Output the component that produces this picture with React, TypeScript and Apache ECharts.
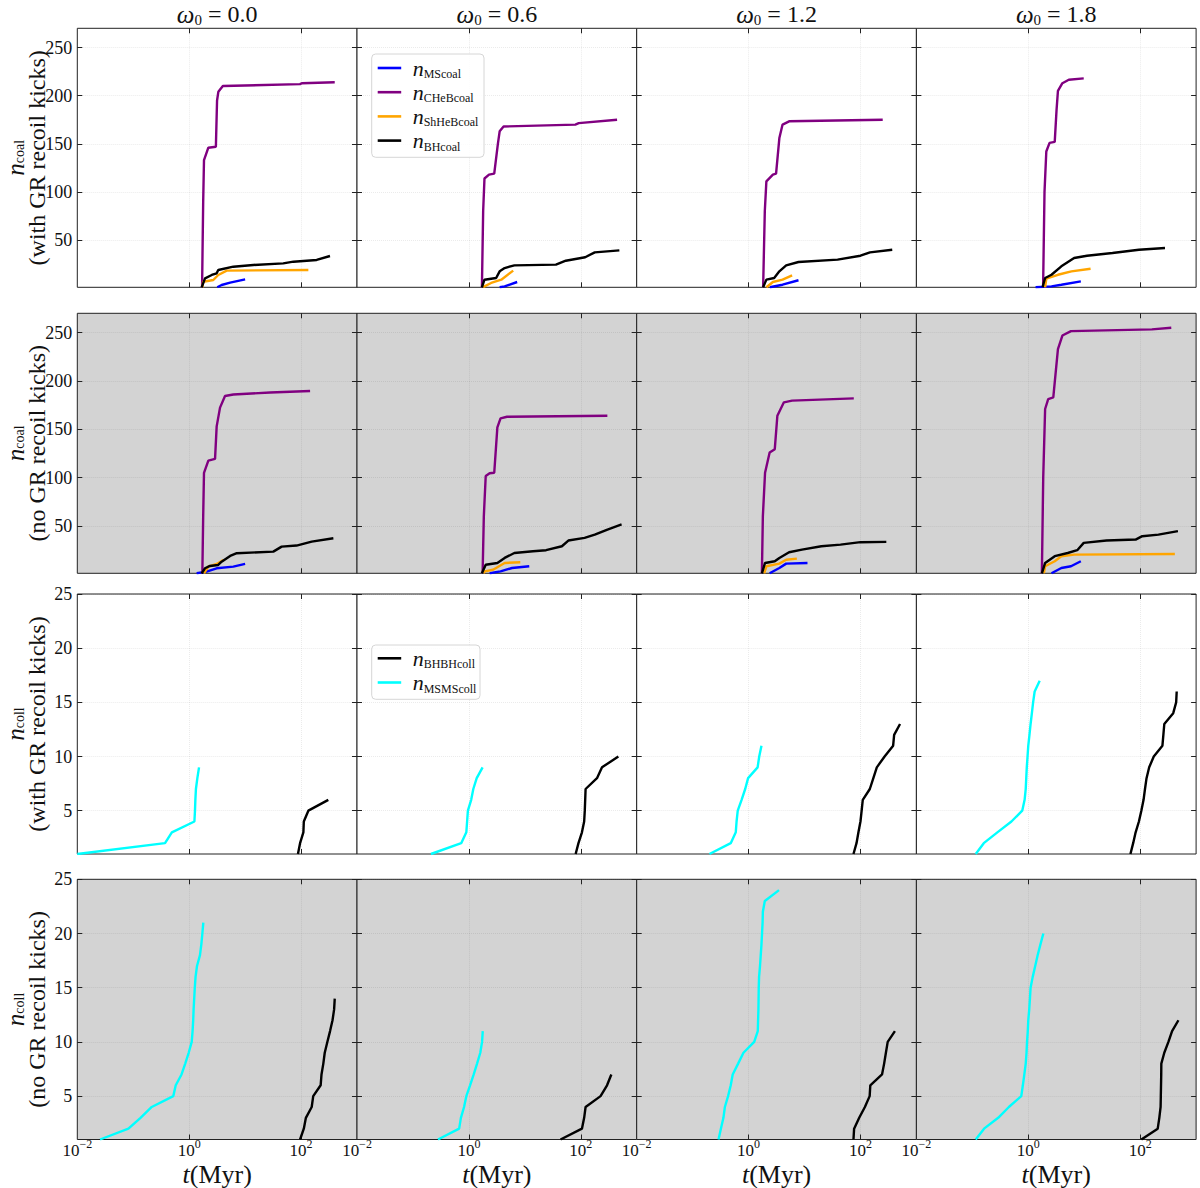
import { useEffect, useRef } from 'react';
import * as echarts from 'echarts';

type Pt = [number, number];

// ---- axes ----
const OMEGA = ['0.0', '0.6', '1.2', '1.8'];
const T_MIN = 0.01;
const T_MAX = 1000;
const T_TICKS = [1, 100];
const T_TICK_LABELS = [0.01, 1, 100];
const COAL_TICKS = [50, 100, 150, 200, 250];
const COLL_TICKS = [5, 10, 15, 20, 25];
const COAL_RANGE: [number, number] = [1, 270];
const COLL_RANGE: [number, number] = [1, 25];

// ---- coalescences, with GR recoil kicks: [t (Myr), n], one list per omega0 column ----
const MS_COAL_GR: Pt[][] = [
  [[3.18, 1], [3.8, 3.4], [5.4, 5.8], [10, 9.3]],
  [[3.55, 1], [4.36, 2], [7.3, 6.5]],
  [[2.4, 1], [4.05, 3.7], [7.8, 8.3]],
  [[1.35, 1], [2.6, 2], [3.9, 3.7], [8.7, 7.2]],
];
const CHEB_COAL_GR: Pt[][] = [
  [[1.7, 1], [1.78, 90], [1.84, 133], [2.2, 146], [3.0, 147], [3.15, 195], [3.32, 204], [4.0, 210], [96, 212], [103, 213], [400, 214]],
  [[1.71, 1], [1.8, 80], [1.9, 114], [2.29, 118], [2.84, 119], [3.3, 150], [3.55, 163], [4.17, 168], [80, 170], [92, 171.5], [446, 175]],
  [[1.82, 1], [1.95, 80], [2.08, 111], [2.72, 118], [3.1, 119], [3.55, 156], [4.05, 170], [5.3, 173.4], [250, 175]],
  [[1.84, 1], [1.95, 100], [2.1, 142], [2.4, 151], [2.97, 152], [3.2, 185], [3.39, 205], [4.07, 213], [5.3, 216.6], [9.8, 218]],
];
const SHHEB_COAL_GR: Pt[][] = [
  [[1.72, 1], [1.78, 6.8], [2.7, 8.6], [3.31, 13.8], [4.69, 18.3], [135, 19]],
  [[1.8, 1], [1.9, 2], [2.5, 5.5], [3.8, 8.9], [6.2, 18.3]],
  [[2.08, 1], [2.72, 6.5], [4.05, 8.9], [6.0, 13.4]],
  [[2.0, 1], [2.1, 10], [2.3, 10.7], [3.39, 14], [5.9, 17.6], [13, 20.3]],
];
const BH_COAL_GR: Pt[][] = [
  [[1.67, 1], [1.92, 10.3], [2.53, 13.8], [3.1, 15.5], [3.31, 19], [6.15, 22.4], [14, 24.2], [48, 25.9], [73, 27.6], [190, 29.4], [329, 33.5]],
  [[1.71, 1], [1.9, 8.9], [3.07, 10.7], [3.55, 17.6], [4.36, 21], [6.5, 23.8], [36, 24.5], [54, 28.6], [120, 32.2], [178, 37.3], [490, 39.4]],
  [[1.82, 1], [2.08, 9], [2.87, 10.7], [3.55, 17.6], [4.7, 23.8], [7.8, 27.3], [39, 29.7], [100, 33.8], [148, 37.3], [370, 40]],
  [[1.8, 1], [2.0, 10.7], [2.6, 14], [3.9, 22.8], [6.6, 31.4], [11.2, 33.8], [32, 36.6], [95, 40], [278, 41.8]],
];

// ---- coalescences, no GR recoil kicks ----
const MS_COAL_NOGR: Pt[][] = [
  [[1.36, 1], [2.04, 2.7], [3.1, 6.2], [6.15, 7.9], [10, 10.7]],
  [[2.35, 1], [3.68, 3], [5.9, 6.5], [12, 8.3]],
  [[2.38, 1], [3.55, 6.5], [4.7, 11], [11.3, 11.7]],
  [[2.6, 1], [3.9, 6.5], [5.8, 8.3], [8.7, 13.5]],
];
const CHEB_COAL_NOGR: Pt[][] = [
  [[1.72, 1], [1.78, 60], [1.84, 105], [2.2, 117.6], [2.9, 119.4], [3.1, 153], [3.56, 172.4], [4.37, 184.4], [6.15, 186], [28, 188], [145, 189.6]],
  [[1.76, 1], [1.85, 60], [2.0, 101.7], [2.35, 104.5], [2.84, 105], [3.23, 151.9], [3.68, 161.3], [4.8, 163], [299, 164]],
  [[1.73, 1], [1.8, 60], [1.97, 105], [2.38, 125.9], [2.94, 129.4], [3.27, 164], [4.28, 177.9], [6.0, 179.6], [76, 182]],
  [[1.75, 1], [1.85, 100], [2.0, 171], [2.27, 181.3], [2.8, 183], [3.39, 233], [4.07, 247], [5.8, 251.6], [162, 253.4], [360, 255]],
];
const SHHEB_COAL_NOGR: Pt[][] = [
  [[1.84, 1], [2.2, 7.9], [3.1, 10.7], [4.07, 14.8]],
  [[1.85, 1], [1.9, 3], [2.7, 4.7], [4.36, 11.7], [8.3, 12.4]],
  [[1.9, 1], [2.08, 8.3], [3.55, 11], [4.7, 15], [7.3, 16.2]],
  [[1.9, 1], [2.0, 8.3], [2.97, 13.5], [3.9, 18.7], [6.6, 20.3], [417, 21]],
];
const BH_COAL_NOGR: Pt[][] = [
  [[1.67, 1], [1.92, 6.2], [2.35, 8.6], [3.3, 9.6], [3.8, 13], [5.4, 19], [7.1, 21.8], [31.9, 23.4], [45, 28.6], [83, 29.7], [155, 33.8], [378, 37.3]],
  [[1.71, 1], [2.0, 9.9], [3.23, 11.7], [4.36, 16.9], [6.5, 22], [14, 23.8], [24, 24.9], [46, 29], [60, 34.9], [117, 37.7], [178, 41], [300, 46.3], [537, 51.5]],
  [[1.73, 1], [1.97, 11.7], [2.94, 13.5], [3.55, 16.9], [5.3, 22.8], [9, 25.5], [20, 29], [44, 30.7], [100, 33.2], [290, 33.5]],
  [[1.75, 1], [2.0, 11.7], [2.97, 18.7], [5.07, 22], [7.5, 24.9], [9.8, 32.5], [25, 34.9], [83, 35.9], [109, 39.4], [212, 41], [473, 44.6]],
];

// ---- collisions, with GR recoil kicks ----
const BHBH_COLL_GR: Pt[][] = [
  [[88, 1], [96, 2], [110, 3], [112, 4], [135, 5], [307, 6]],
  [[81, 1], [91, 2], [105, 3], [115, 4], [118, 5], [120, 6], [122, 7], [195, 8], [240, 9], [470, 10]],
  [[75, 1], [85, 2], [92, 3], [100, 4], [105, 5], [110, 6], [147, 7], [170, 8], [196, 9], [270, 10], [384, 11], [400, 12], [510, 13]],
  [[67, 1], [75, 2], [83, 3], [95, 4], [105, 5], [115, 6], [122, 7], [130, 8], [145, 9], [175, 10], [250, 11], [260, 12], [270, 13], [390, 14], [440, 15], [450, 16]],
];
const MSMS_COLL_GR: Pt[][] = [
  [[0.01, 1], [0.37, 2], [0.49, 3], [1.24, 4], [1.27, 5], [1.29, 6], [1.32, 7], [1.4, 8], [1.5, 9]],
  [[0.21, 1], [0.73, 2], [0.9, 3], [0.93, 4], [0.96, 5], [1.1, 6], [1.2, 7], [1.38, 8], [1.76, 9]],
  [[0.2, 1], [0.48, 2], [0.59, 3], [0.61, 4], [0.64, 5], [0.75, 6], [0.87, 7], [0.98, 8], [1.45, 9], [1.55, 10], [1.7, 11]],
  [[0.115, 1], [0.16, 2], [0.28, 3], [0.5, 4], [0.78, 5], [0.86, 6], [0.9, 7], [0.92, 8], [0.94, 9], [0.97, 10], [1.0, 11], [1.05, 12], [1.1, 13], [1.16, 14], [1.22, 15], [1.3, 16], [1.6, 17]],
];

// ---- collisions, no GR recoil kicks ----
const BHBH_COLL_NOGR: Pt[][] = [
  [[96, 1], [112, 2], [122, 3], [155, 4], [165, 5], [224, 6], [232, 7], [250, 8], [265, 9], [295, 10], [330, 11], [365, 12], [390, 13], [400, 14]],
  [[43.5, 1], [105, 2], [115, 3], [122, 4], [226, 5], [295, 6], [352, 7]],
  [[75, 1], [77, 2], [95, 3], [120, 4], [146, 5], [150, 6], [243, 7], [265, 8], [285, 9], [307, 10], [413, 11]],
  [[105, 1], [206, 2], [220, 3], [232, 4], [234, 5], [236, 6], [238, 7], [239, 8], [270, 9], [320, 10], [372, 11], [483, 12]],
];
const MSMS_COLL_NOGR: Pt[][] = [
  [[0.0255, 1], [0.082, 2], [0.135, 3], [0.214, 4], [0.52, 5], [0.575, 6], [0.73, 7], [0.85, 8], [0.98, 9], [1.11, 10], [1.15, 11], [1.18, 12], [1.2, 13], [1.23, 14], [1.26, 15], [1.3, 16], [1.38, 17], [1.56, 18], [1.65, 19], [1.72, 20], [1.79, 21]],
  [[0.28, 1], [0.67, 2], [0.72, 3], [0.82, 4], [0.9, 5], [1.05, 6], [1.22, 7], [1.4, 8], [1.6, 9], [1.72, 10], [1.77, 11]],
  [[0.29, 1], [0.32, 2], [0.355, 3], [0.377, 4], [0.43, 5], [0.48, 6], [0.52, 7], [0.65, 8], [0.81, 9], [1.26, 10], [1.46, 11], [1.48, 12], [1.5, 13], [1.51, 14], [1.52, 15], [1.54, 16], [1.6, 17], [1.65, 18], [1.7, 19], [1.74, 20], [1.78, 21], [1.8, 22], [1.95, 23], [3.5, 24]],
  [[0.115, 1], [0.162, 2], [0.29, 3], [0.45, 4], [0.75, 5], [0.8, 6], [0.85, 7], [0.9, 8], [0.93, 9], [0.95, 10], [0.98, 11], [1.0, 12], [1.04, 13], [1.07, 14], [1.1, 15], [1.2, 16], [1.33, 17], [1.47, 18], [1.65, 19], [1.86, 20]],
];

// ---- row descriptions ----
const ROW_SUBS = ['coal', 'coal', 'coll', 'coll'];
const ROW_NOTES = ['(with GR recoil kicks)', '(no GR recoil kicks)', '(with GR recoil kicks)', '(no GR recoil kicks)'];

type Kind = { sub: string; color: string; data: Pt[][] };
const ROW_KINDS: Kind[][] = [
  [
    { sub: 'MScoal', color: '#0000ff', data: MS_COAL_GR },
    { sub: 'CHeBcoal', color: '#800080', data: CHEB_COAL_GR },
    { sub: 'ShHeBcoal', color: '#ffa500', data: SHHEB_COAL_GR },
    { sub: 'BHcoal', color: '#000000', data: BH_COAL_GR },
  ],
  [
    { sub: 'MScoal', color: '#0000ff', data: MS_COAL_NOGR },
    { sub: 'CHeBcoal', color: '#800080', data: CHEB_COAL_NOGR },
    { sub: 'ShHeBcoal', color: '#ffa500', data: SHHEB_COAL_NOGR },
    { sub: 'BHcoal', color: '#000000', data: BH_COAL_NOGR },
  ],
  [
    { sub: 'BHBHcoll', color: '#000000', data: BHBH_COLL_GR },
    { sub: 'MSMScoll', color: '#00ffff', data: MSMS_COLL_GR },
  ],
  [
    { sub: 'BHBHcoll', color: '#000000', data: BHBH_COLL_NOGR },
    { sub: 'MSMScoll', color: '#00ffff', data: MSMS_COLL_NOGR },
  ],
];

// ---- layout ----
const SERIF = "'Liberation Serif', 'DejaVu Serif', serif";
const INK = '#111';
const COL_LEFT = 77.3;
const COL_W = 279.7;
const ROW_TOP = [28.3, 313.3, 594, 879.3];
const ROW_H = [259, 260, 260, 260.2];

const supLabel = (v: number) => {
  const e = Math.round(Math.log10(v));
  return `{b|10}{e|${e < 0 ? '\u2212' + -e : e}}`;
};

function buildOption() {
  const grid: any[] = [];
  const xAxis: any[] = [];
  const yAxis: any[] = [];
  const series: any[] = [];
  const graphic: any[] = [];

  for (let r = 0; r < 4; r++) {
    const coal = r < 2;
    const range = coal ? COAL_RANGE : COLL_RANGE;
    const yTicks = coal ? COAL_TICKS : COLL_TICKS;
    for (let c = 0; c < 4; c++) {
      const idx = r * 4 + c;
      grid.push({
        left: COL_LEFT + c * COL_W,
        top: ROW_TOP[r],
        width: COL_W,
        height: ROW_H[r],
        show: true,
        backgroundColor: r % 2 === 1 ? '#d3d3d3' : '#ffffff',
        borderColor: '#222',
        borderWidth: 1,
      });
      const tickStyle = { color: '#222', width: 1 };
      xAxis.push({
        type: 'log',
        logBase: 10,
        gridIndex: idx,
        min: T_MIN,
        max: T_MAX,
        position: 'bottom',
        axisLine: { show: false },
        axisTick: { show: true, inside: true, length: 5, customValues: T_TICKS, lineStyle: tickStyle },
        minorTick: { show: false },
        axisLabel: {
          show: r === 3,
          customValues: T_TICK_LABELS,
          margin: -2,
          formatter: supLabel,
          color: INK,
          fontFamily: SERIF,
          rich: {
            b: { fontSize: 17, lineHeight: 25, verticalAlign: 'middle', fontFamily: SERIF, color: INK },
            e: { fontSize: 12, lineHeight: 12, verticalAlign: 'top', fontFamily: SERIF, color: INK },
          },
        },
        splitLine: { show: true, lineStyle: { type: 'dotted', color: 'rgba(0,0,0,0.08)', width: 1 } },
      });
      xAxis.push({
        type: 'log',
        logBase: 10,
        gridIndex: idx,
        min: T_MIN,
        max: T_MAX,
        position: 'top',
        axisLine: { show: false },
        axisTick: { show: true, inside: true, length: 5, customValues: T_TICKS, lineStyle: tickStyle },
        axisLabel: { show: false },
        splitLine: { show: false },
      });
      yAxis.push({
        type: 'value',
        gridIndex: idx,
        min: range[0],
        max: range[1],
        position: 'left',
        axisLine: { show: false },
        axisTick: { show: true, inside: true, length: 5, customValues: yTicks, lineStyle: tickStyle },
        axisLabel: {
          show: c === 0,
          customValues: yTicks,
          margin: 5,
          fontSize: 18,
          fontFamily: SERIF,
          color: INK,
        },
        splitLine: { show: true, lineStyle: { type: 'dotted', color: 'rgba(0,0,0,0.08)', width: 1 } },
      });
      yAxis.push({
        type: 'value',
        gridIndex: idx,
        min: range[0],
        max: range[1],
        position: 'right',
        axisLine: { show: false },
        axisTick: { show: true, inside: true, length: 5, customValues: yTicks, lineStyle: tickStyle },
        axisLabel: { show: false },
        splitLine: { show: false },
      });

      ROW_KINDS[r].forEach((k) => {
        series.push({
          type: 'line',
          name: 'n_' + k.sub,
          xAxisIndex: idx * 2,
          yAxisIndex: idx * 2,
          data: k.data[c],
          showSymbol: false,
          symbol: 'none',
          lineStyle: { color: k.color, width: 2.4 },
          itemStyle: { color: k.color },
          clip: true,
        });
      });
    }

    // rotated row labels
    const cy = ROW_TOP[r] + ROW_H[r] / 2;
    graphic.push({
      type: 'text',
      x: 15,
      y: cy,
      rotation: Math.PI / 2,
      style: {
        text: `{n|n}{s|${ROW_SUBS[r]}}`,
        align: 'center',
        verticalAlign: 'middle',
        textAlign: 'center',
        textVerticalAlign: 'middle',
        fill: INK,
        rich: {
          n: { fontSize: 25, fontStyle: 'italic', fontFamily: SERIF, lineHeight: 22, verticalAlign: 'middle', fill: INK, color: INK },
          s: { fontSize: 14, fontFamily: SERIF, lineHeight: 12, verticalAlign: 'bottom', fill: INK, color: INK },
        },
      },
    });
    graphic.push({
      type: 'text',
      x: 37,
      y: cy,
      rotation: Math.PI / 2,
      style: {
        text: ROW_NOTES[r],
        align: 'center',
        verticalAlign: 'middle',
        textAlign: 'center',
        textVerticalAlign: 'middle',
        font: `24px ${SERIF}`,
        fontSize: 24,
        fontFamily: SERIF,
        fill: INK,
      },
    });
  }

  // column titles and time-axis names
  for (let c = 0; c < 4; c++) {
    const cx = COL_LEFT + c * COL_W + COL_W / 2;
    graphic.push({
      type: 'text',
      x: cx,
      y: 14,
      style: {
        text: `{w|\u03c9}{s|0}{r| = ${OMEGA[c]}}`,
        align: 'center',
        verticalAlign: 'middle',
        textAlign: 'center',
        textVerticalAlign: 'middle',
        fill: INK,
        rich: {
          w: { fontSize: 25, fontStyle: 'italic', fontFamily: SERIF, lineHeight: 26, verticalAlign: 'middle', fill: INK, color: INK },
          s: { fontSize: 15, fontFamily: SERIF, lineHeight: 14, verticalAlign: 'bottom', fill: INK, color: INK },
          r: { fontSize: 24, fontFamily: SERIF, lineHeight: 26, verticalAlign: 'middle', fill: INK, color: INK },
        },
      },
    });
    graphic.push({
      type: 'text',
      x: cx,
      y: 1174,
      style: {
        text: '{i|t}{r|(Myr)}',
        align: 'center',
        verticalAlign: 'middle',
        textAlign: 'center',
        textVerticalAlign: 'middle',
        fill: INK,
        rich: {
          i: { fontSize: 26, fontStyle: 'italic', fontFamily: SERIF, lineHeight: 28, fill: INK, color: INK },
          r: { fontSize: 26, fontFamily: SERIF, lineHeight: 28, fill: INK, color: INK },
        },
      },
    });
  }

  // legends
  const legend = (kinds: Kind[], x: number, y: number, w: number, h: number, firstY: number) => {
    graphic.push({
      type: 'rect',
      shape: { x, y, width: w, height: h, r: 4 },
      style: { fill: 'rgba(255,255,255,0.85)', stroke: '#d6d6d6', lineWidth: 1 },
      z: 50,
    });
    kinds.forEach((k, i) => {
      const yy = firstY + i * 24.2;
      graphic.push({
        type: 'line',
        shape: { x1: x + 6, y1: yy, x2: x + 29.5, y2: yy },
        style: { stroke: k.color, lineWidth: 2.6 },
        z: 51,
      });
      graphic.push({
        type: 'text',
        x: x + 41,
        y: yy,
        z: 51,
        style: {
          text: `{n|n}{s|${k.sub}}`,
          align: 'left',
          verticalAlign: 'middle',
          textAlign: 'left',
          textVerticalAlign: 'middle',
          fill: INK,
          rich: {
            n: { fontSize: 22, fontStyle: 'italic', fontFamily: SERIF, lineHeight: 24, verticalAlign: 'middle', fill: INK, color: INK },
            s: { fontSize: 12, fontFamily: SERIF, lineHeight: 12, verticalAlign: 'bottom', fill: INK, color: INK },
          },
        },
      });
    });
  };
  legend(ROW_KINDS[0], 371.7, 54, 112.3, 103.3, 68);
  legend(ROW_KINDS[2], 371.7, 645, 108.3, 54.3, 658.3);

  return {
    animation: false,
    backgroundColor: '#ffffff',
    grid,
    xAxis,
    yAxis,
    series,
    graphic: { elements: graphic },
  };
}

export default function App() {
  const ref = useRef<HTMLDivElement>(null);
  useEffect(() => {
    if (!ref.current) return;
    const chart = echarts.init(ref.current, undefined, { renderer: 'svg' });
    chart.setOption(buildOption() as any);
    return () => chart.dispose();
  }, []);
  return (
    <div
      ref={ref}
      style={{ position: 'absolute', left: 0, top: 0, width: 1200, height: 1188, background: '#fff' }}
    />
  );
}
